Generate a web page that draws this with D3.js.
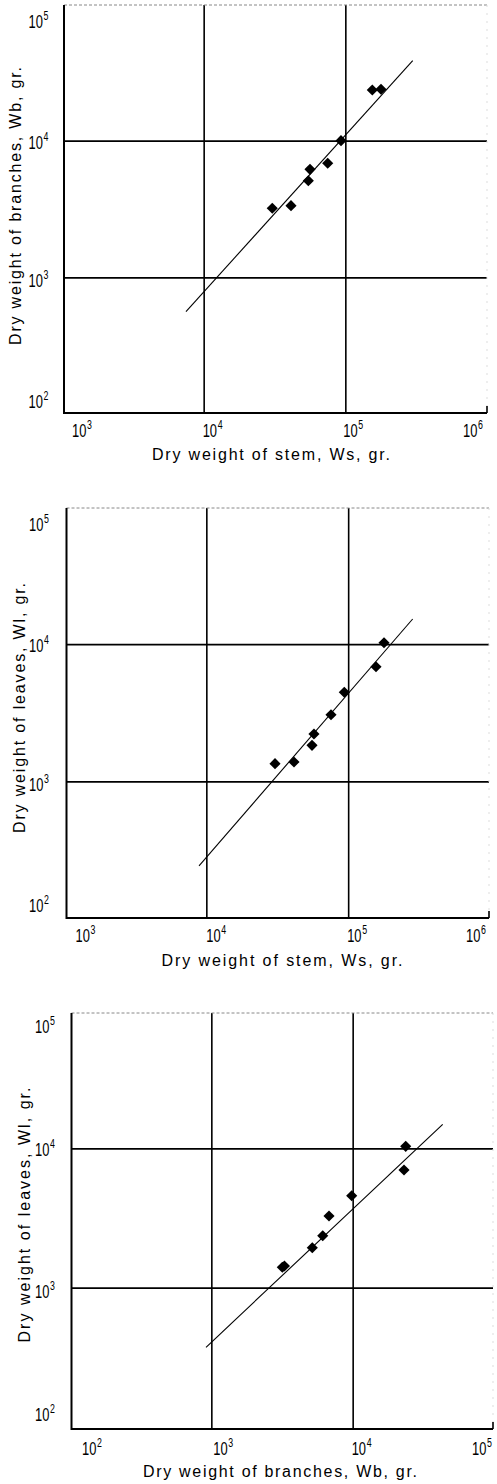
<!DOCTYPE html>
<html><head><meta charset="utf-8">
<script src="https://cdn.jsdelivr.net/npm/d3@7"></script>
<style>body{margin:0;background:#fff} svg{display:block}</style>
</head><body>
<svg id="chart" width="497" height="1484"></svg>
<script>
// ---------- data ----------
// tick exponents (labels 10^n)
const stemExp   = [3, 4, 5, 6];
const branchExp = [2, 3, 4, 5];
const massExp   = [2, 3, 4, 5];
const gridStem   = [1e4, 1e5];
const gridBranch = [1e3, 1e4];
const gridMass   = [1e3, 1e4];

// Panel 1: Wb vs Ws
const p1Stem   = [155000, 178500, 93200, 75100, 56300, 54800, 30500, 41350];
const p1Branch = [23500, 23770, 10000, 6830, 6170, 5090, 3200, 3345];
const p1LineX  = [7500, 299000];
const p1LineY  = [561, 38460];

// Panel 2: Wl vs Ws
const p2Stem  = [179000, 157100, 93900, 75700, 57400, 55600, 41500, 30500];
const p2Leaf  = [10250, 6850, 4460, 3060, 2215, 1830, 1384, 1345];
const p2LineX = [8880, 285000];
const p2LineY = [241.5, 15260];

// Panel 3: Wl vs Wb
const p3Branch = [23730, 23080, 9845, 6800, 6140, 5180, 3180, 3290];
const p3Leaf   = [10340, 6990, 4570, 3268, 2360, 1935, 1400, 1430];
const p3LineX  = [917, 43350];
const p3LineY  = [373, 14880];

const xTitles = ["Dry weight of stem, Ws, gr.", "Dry weight of stem, Ws, gr.", "Dry weight of branches, Wb, gr."];
const yTitles = ["Dry weight of branches, Wb, gr.", "Dry weight of leaves, Wl, gr.", "Dry weight of leaves, Wl, gr."];

// ---------- layout ----------
const panels = [
  { xs: p1Stem, ys: p1Branch, lx: p1LineX, ly: p1LineY, xExp: stemExp, yExp: massExp, gx: gridStem, gy: gridMass,
    xDom: [1e3, 1e6], yDom: [1e2, 1e5], xR: [62, 487], yR: [414, 4],
    frame: {l: 64, r: 487, t: 5, b: 413},
    xLabBase: 437, xLabDx: [10, -1, -2, -24], yLabX: 28.5,
    xT: {cx: 271, y: 460, len: 238, text: xTitles[0]},
    yT: {cy: 206, x: 21, len: 278, text: yTitles[0]} },
  { xs: p2Stem, ys: p2Leaf, lx: p2LineX, ly: p2LineY, xExp: stemExp, yExp: massExp, gx: gridStem, gy: gridMass,
    xDom: [1e3, 1e6], yDom: [1e2, 1e5], xR: [64.5, 490], yR: [918.5, 507],
    frame: {l: 66.5, r: 489, t: 508, b: 918},
    xLabBase: 942, xLabDx: [11, 0, -1, -24], yLabX: 29,
    xT: {cx: 282, y: 966, len: 241, text: xTitles[1]},
    yT: {cy: 708, x: 25, len: 250, text: yTitles[1]} },
  { xs: p3Branch, ys: p3Leaf, lx: p3LineX, ly: p3LineY, xExp: branchExp, yExp: massExp, gx: gridBranch, gy: gridMass,
    xDom: [1e2, 1e5], yDom: [1e2, 1e5], xR: [70, 494], yR: [1427, 1009],
    frame: {l: 71.5, r: 493, t: 1013, b: 1429},
    xLabBase: 1455, xLabDx: [12, 2, -1, -22], yLabX: 35,
    xT: {cx: 280, y: 1477, len: 274, text: xTitles[2]},
    yT: {cy: 1215, x: 30, len: 255, text: yTitles[2]} }
];
const yLabOff = [-6.5, 10, 8, 24];

const svg = d3.select("#chart");
const FONT = "'Liberation Sans', Arial, sans-serif";

// "10" with a superscript exponent, as one text element drawn narrow
function powLabel(g, x, y, exp) {
  const t = g.append("text")
    .attr("transform", `translate(${x},${y}) scale(0.68,1)`)
    .attr("font-family", FONT).attr("font-size", 19).attr("fill", "#000");
  t.append("tspan").text("10");
  t.append("tspan").attr("dx", 1).attr("dy", -8).attr("font-size", 13).text(String(exp));
}

panels.forEach(p => {
  const g = svg.append("g");
  const x = d3.scaleLog().domain(p.xDom).range(p.xR);
  const y = d3.scaleLog().domain(p.yDom).range(p.yR);
  const f = p.frame;

  // gridlines via axes
  const gxAxis = d3.axisBottom(x).tickValues(p.gx).tickSize(-(f.b - f.t)).tickFormat("");
  const gxg = g.append("g").attr("transform", `translate(0,${f.b})`).call(gxAxis);
  gxg.select(".domain").remove();
  gxg.selectAll("line").attr("stroke", "#000").attr("stroke-width", 1.6);

  const gyAxis = d3.axisLeft(y).tickValues(p.gy).tickSize(-(f.r - f.l)).tickFormat("");
  const gyg = g.append("g").attr("transform", `translate(${f.l},0)`).call(gyAxis);
  gyg.select(".domain").remove();
  gyg.selectAll("line").attr("stroke", "#000").attr("stroke-width", 1.6);

  // frame
  g.append("line").attr("x1", f.l).attr("x2", f.r).attr("y1", f.t).attr("y2", f.t)
    .attr("stroke", "#888").attr("stroke-width", 1).attr("stroke-dasharray", "3,2");
  g.append("line").attr("x1", f.r).attr("x2", f.r).attr("y1", f.t).attr("y2", f.b)
    .attr("stroke", "#ddd").attr("stroke-width", 1).attr("stroke-dasharray", "2,6");
  g.append("line").attr("x1", f.l).attr("x2", f.l).attr("y1", f.t).attr("y2", f.b + 1)
    .attr("stroke", "#000").attr("stroke-width", 2);
  g.append("line").attr("x1", f.l).attr("x2", f.r).attr("y1", f.b).attr("y2", f.b)
    .attr("stroke", "#000").attr("stroke-width", 2);
  g.append("line").attr("x1", f.r).attr("x2", f.r).attr("y1", f.b).attr("y2", f.b - 7)
    .attr("stroke", "#000").attr("stroke-width", 1.6);

  // tick labels
  p.xExp.forEach((e, i) => powLabel(g, x(Math.pow(10, e)) + p.xLabDx[i], p.xLabBase, e));
  p.yExp.forEach((e, i) => powLabel(g, p.yLabX, y(Math.pow(10, e)) + yLabOff[i], e));

  // fitted line
  const line = d3.line().x(d => x(d[0])).y(d => y(d[1]));
  g.append("path").datum(p.lx.map((v, i) => [v, p.ly[i]]))
    .attr("d", line).attr("fill", "none").attr("stroke", "#000").attr("stroke-width", 1.1);

  // points (diamonds)
  const sym = d3.symbol().type(d3.symbolSquare).size(62);
  g.selectAll("path.pt").data(p.xs.map((v, i) => [v, p.ys[i]])).enter()
    .append("path").attr("class", "pt")
    .attr("d", sym)
    .attr("transform", d => `translate(${x(d[0])},${y(d[1])}) rotate(45)`)
    .attr("fill", "#000");

  // titles
  g.append("text").attr("x", p.xT.cx).attr("y", p.xT.y).attr("text-anchor", "middle")
    .attr("font-family", FONT).attr("font-size", 16)
    .attr("textLength", p.xT.len).attr("lengthAdjust", "spacing")
    .attr("fill", "#000").text(p.xT.text);
  g.append("text").attr("transform", `translate(${p.yT.x},${p.yT.cy}) rotate(-90)`)
    .attr("text-anchor", "middle")
    .attr("font-family", FONT).attr("font-size", 16)
    .attr("textLength", p.yT.len).attr("lengthAdjust", "spacing")
    .attr("fill", "#000").text(p.yT.text);
});
</script>
</body></html>
